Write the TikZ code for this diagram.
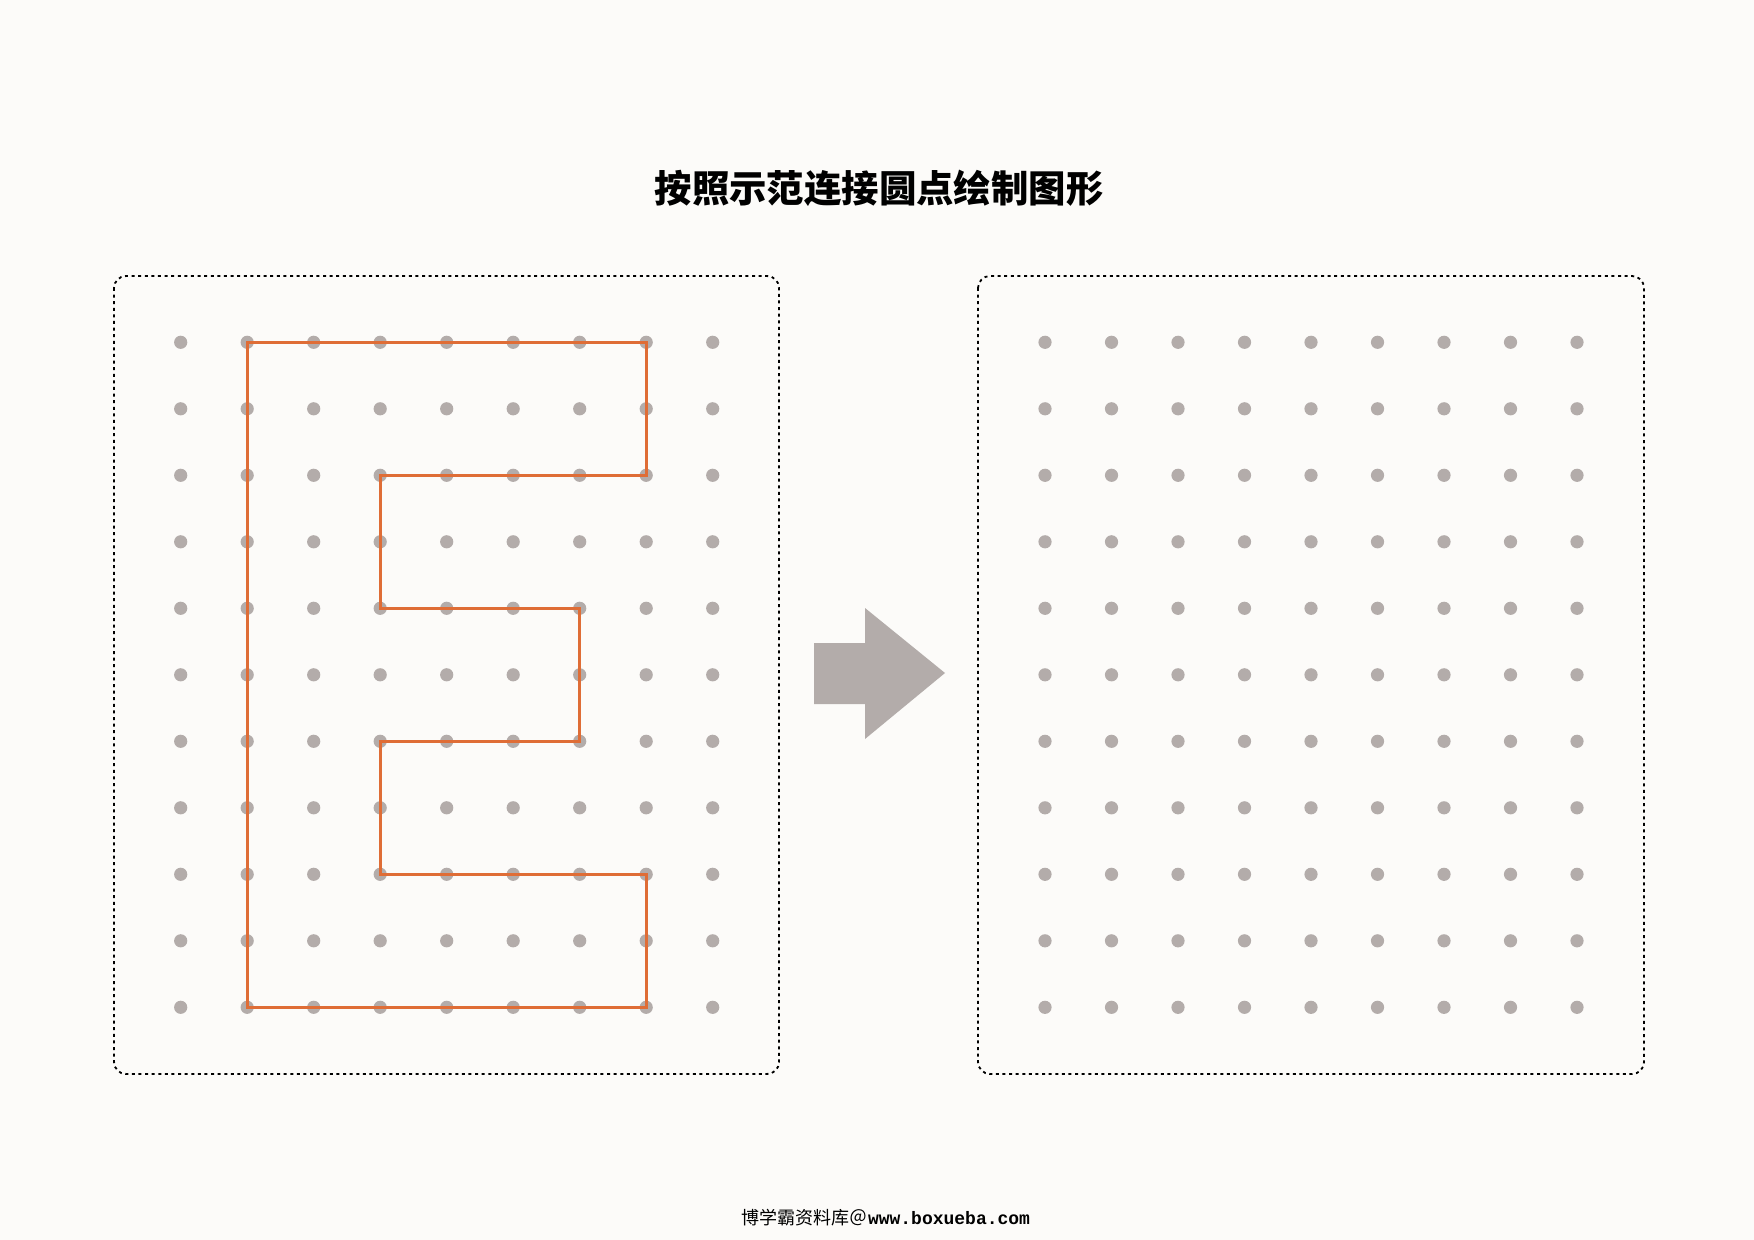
\documentclass[tikz,border=0pt]{standalone}
\usepackage{fontspec}
\usepackage{xcolor}
\usepackage{tikz}
\setmonofont{Liberation Mono}
\newfontfamily\cjk{Noto Sans CJK SC}
\definecolor{dotgray}{HTML}{B3ACAA}
\definecolor{eorange}{HTML}{DF6D36}
\definecolor{paper}{HTML}{FCFBF9}

\begin{document}
\begin{tikzpicture}[x=0.5pt, y=-0.5pt,
  dot/.style={circle, fill=dotgray, inner sep=0pt, minimum size=6.6pt},
  board/.style={draw, line width=0.9pt, dash pattern=on 1.5pt off 1.8pt, rounded corners=6pt},
  eline/.style={draw=eorange, line width=1.5pt, line join=miter}]
% Page
\fill[paper] (0,0) rectangle (1754,1240);
\useasboundingbox (0,0) rectangle (1754,1240);

% Title
\node[font=\cjk\bfseries\fontsize{18.7pt}{22pt}\selectfont] (title) at (879,188) {按照示范连接圆点绘制图形};

% Boards
\draw[board] (114,276) rectangle (779,1074);
\draw[board] (978,276) rectangle (1644,1074);

% Dot grids
\foreach \i in {0,...,8}
  \foreach \j in {0,...,10} {
    \node[dot] (l-\i-\j) at (180.7+66.5*\i, 342.3+66.5*\j) {};
    \node[dot] (r-\i-\j) at (1045+66.5*\i, 342.3+66.5*\j) {};
  }

% Letter E
\draw[eline] (l-1-0.center) -- (l-7-0.center) -- (l-7-2.center) -- (l-3-2.center)
  -- (l-3-4.center) -- (l-6-4.center) -- (l-6-6.center) -- (l-3-6.center)
  -- (l-3-8.center) -- (l-7-8.center) -- (l-7-10.center) -- (l-1-10.center) -- cycle;

% Arrow
\fill[dotgray] (814,643) -- (865,643) -- (865,608) -- (945,673) -- (865,739)
  -- (865,704) -- (814,704) -- cycle;

% Footer
\node[font=\fontsize{9pt}{11pt}\selectfont] (foot) at (886,1218)
  {{\cjk 博学霸资料库＠}\texttt{\bfseries www.boxueba.com}};
\end{tikzpicture}
\end{document}
